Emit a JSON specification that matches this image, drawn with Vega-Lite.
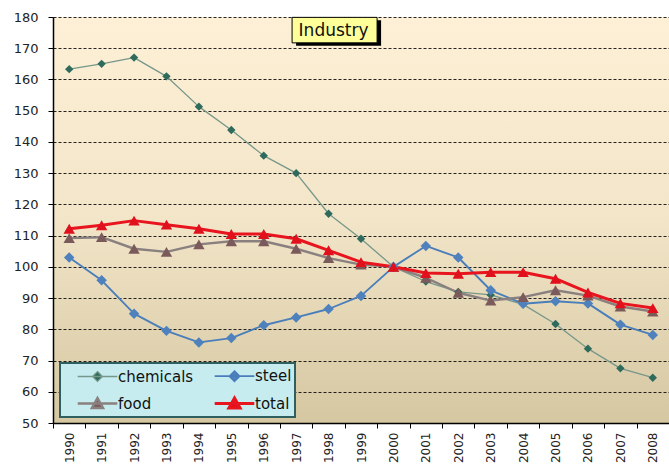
{
  "$schema": "https://vega.github.io/schema/vega-lite/v6.json",
  "width": 616,
  "height": 406,
  "autosize": {"type": "none"},
  "padding": {"left": 53, "top": 17, "right": 0, "bottom": 41},
  "background": "white",
  "config": {
    "view": {
      "stroke": null,
      "fill": {
        "gradient": "linear", "x1": 0, "y1": 0, "x2": 0, "y2": 1,
        "stops": [
          {"offset": 0, "color": "#FDF0D6"},
          {"offset": 0.5, "color": "#F2E5C8"},
          {"offset": 1, "color": "#D5C7A1"}
        ]
      }
    },
    "font": "DejaVu Sans",
    "axis": {"labelFont": "DejaVu Sans", "labelColor": "#222", "domainColor": "#000", "tickColor": "#000"},
    "axisY": {"labelOverlap": false}
  },
  "data": {
    "values": [
      {"year": 1990, "series": "chemicals", "value": 163.3},
      {"year": 1991, "series": "chemicals", "value": 165.0},
      {"year": 1992, "series": "chemicals", "value": 167.0},
      {"year": 1993, "series": "chemicals", "value": 161.0},
      {"year": 1994, "series": "chemicals", "value": 151.3},
      {"year": 1995, "series": "chemicals", "value": 143.8},
      {"year": 1996, "series": "chemicals", "value": 135.6},
      {"year": 1997, "series": "chemicals", "value": 130.0},
      {"year": 1998, "series": "chemicals", "value": 117.0},
      {"year": 1999, "series": "chemicals", "value": 109.0},
      {"year": 2000, "series": "chemicals", "value": 100.0},
      {"year": 2001, "series": "chemicals", "value": 95.3},
      {"year": 2002, "series": "chemicals", "value": 92.0},
      {"year": 2003, "series": "chemicals", "value": 91.0},
      {"year": 2004, "series": "chemicals", "value": 88.0},
      {"year": 2005, "series": "chemicals", "value": 81.7},
      {"year": 2006, "series": "chemicals", "value": 73.8},
      {"year": 2007, "series": "chemicals", "value": 67.5},
      {"year": 2008, "series": "chemicals", "value": 64.5},
      {"year": 1990, "series": "steel", "value": 103.0},
      {"year": 1991, "series": "steel", "value": 95.7},
      {"year": 1992, "series": "steel", "value": 85.0},
      {"year": 1993, "series": "steel", "value": 79.5},
      {"year": 1994, "series": "steel", "value": 75.8},
      {"year": 1995, "series": "steel", "value": 77.2},
      {"year": 1996, "series": "steel", "value": 81.3},
      {"year": 1997, "series": "steel", "value": 83.8},
      {"year": 1998, "series": "steel", "value": 86.5},
      {"year": 1999, "series": "steel", "value": 90.7},
      {"year": 2000, "series": "steel", "value": 100.0},
      {"year": 2001, "series": "steel", "value": 106.7},
      {"year": 2002, "series": "steel", "value": 103.0},
      {"year": 2003, "series": "steel", "value": 92.5},
      {"year": 2004, "series": "steel", "value": 88.2},
      {"year": 2005, "series": "steel", "value": 89.0},
      {"year": 2006, "series": "steel", "value": 88.3},
      {"year": 2007, "series": "steel", "value": 81.5},
      {"year": 2008, "series": "steel", "value": 78.2},
      {"year": 1990, "series": "food", "value": 109.2},
      {"year": 1991, "series": "food", "value": 109.5},
      {"year": 1992, "series": "food", "value": 105.8},
      {"year": 1993, "series": "food", "value": 104.8},
      {"year": 1994, "series": "food", "value": 107.2},
      {"year": 1995, "series": "food", "value": 108.2},
      {"year": 1996, "series": "food", "value": 108.2},
      {"year": 1997, "series": "food", "value": 105.8},
      {"year": 1998, "series": "food", "value": 102.8},
      {"year": 1999, "series": "food", "value": 100.7},
      {"year": 2000, "series": "food", "value": 100.0},
      {"year": 2001, "series": "food", "value": 96.5},
      {"year": 2002, "series": "food", "value": 91.7},
      {"year": 2003, "series": "food", "value": 89.2},
      {"year": 2004, "series": "food", "value": 90.3},
      {"year": 2005, "series": "food", "value": 92.5},
      {"year": 2006, "series": "food", "value": 90.8},
      {"year": 2007, "series": "food", "value": 87.3},
      {"year": 2008, "series": "food", "value": 85.7},
      {"year": 1990, "series": "total", "value": 112.2},
      {"year": 1991, "series": "total", "value": 113.3},
      {"year": 1992, "series": "total", "value": 114.8},
      {"year": 1993, "series": "total", "value": 113.5},
      {"year": 1994, "series": "total", "value": 112.2},
      {"year": 1995, "series": "total", "value": 110.5},
      {"year": 1996, "series": "total", "value": 110.5},
      {"year": 1997, "series": "total", "value": 109.0},
      {"year": 1998, "series": "total", "value": 105.3},
      {"year": 1999, "series": "total", "value": 101.5},
      {"year": 2000, "series": "total", "value": 100.0},
      {"year": 2001, "series": "total", "value": 98.0},
      {"year": 2002, "series": "total", "value": 97.8},
      {"year": 2003, "series": "total", "value": 98.3},
      {"year": 2004, "series": "total", "value": 98.3},
      {"year": 2005, "series": "total", "value": 96.2},
      {"year": 2006, "series": "total", "value": 91.8},
      {"year": 2007, "series": "total", "value": 88.3},
      {"year": 2008, "series": "total", "value": 86.8}
    ]
  },
  "encoding": {
    "x": {
      "field": "year", "type": "ordinal",
      "scale": {"paddingInner": 0, "paddingOuter": 0},
      "axis": {
        "title": null, "labelAngle": -90, "labelFontSize": 12, "labelPadding": 4,
        "tickBand": "extent", "tickSize": 5, "grid": false, "domainWidth": 1.5
      }
    },
    "y": {
      "field": "value", "type": "quantitative",
      "scale": {"domain": [50, 180], "nice": false},
      "axis": {
        "title": null, "values": [50, 60, 70, 80, 90, 100, 110, 120, 130, 140, 150, 160, 170, 180],
        "labelFontSize": 13, "labelPadding": 10, "tickSize": 5, "domainWidth": 1.5, "labelOverlap": false,
        "grid": true, "gridColor": "#000", "gridDash": [3, 2], "gridWidth": 1, "gridOpacity": 0.85
      }
    }
  },
  "layer": [
    {
      "mark": {"type": "line", "strokeJoin": "round"},
      "encoding": {
        "color": {
          "field": "series", "type": "nominal",
          "scale": {"domain": ["chemicals", "steel", "food", "total"], "range": ["#76978A", "#4A7EBB", "#8A8080", "#E8141E"]},
          "legend": {
            "title": null, "orient": "none", "legendX": 7, "legendY": 346, "direction": "horizontal", "columns": 2,
            "fillColor": "#C6ECEF", "strokeColor": "#2F5F5F", "padding": 3,
            "labelFont": "DejaVu Sans", "labelFontSize": 15, "labelColor": "#111",
            "symbolSize": 324, "columnPadding": 6, "rowPadding": 7, "labelOffset": 10, "symbolOffset": 24,
            "encode": {
              "legend": {"update": {"strokeWidth": {"value": 2}}},
              "symbols": {
                "update": {
                  "shape": {"signal": "datum.value == 'food' || datum.value == 'total' ? 'M-2.2,0H2.2M0,-0.6L0.62,0.5L-0.62,0.5Z' : 'M-2.2,0H2.2M0,-0.55L0.55,0L0,0.55L-0.55,0Z'"},
                  "fill": {"signal": "datum.value == 'chemicals' ? '#2E6B5C' : datum.value == 'steel' ? '#4F81BD' : datum.value == 'food' ? '#7A5A5A' : '#E0101C'"},
                  "strokeWidth": {"signal": "datum.value == 'chemicals' ? 1.3 : 3"}
                }
              }
            }
          }
        },
        "strokeWidth": {
          "field": "series", "type": "nominal",
          "scale": {"domain": ["chemicals", "steel", "food", "total"], "range": [1.3, 3, 3, 3]},
          "legend": null
        }
      }
    },
    {
      "transform": [{"filter": "datum.series == 'chemicals'"}],
      "mark": {"type": "point", "filled": true, "opacity": 1, "shape": "diamond", "size": 70, "fill": "#2E6B5C"}
    },
    {
      "transform": [{"filter": "datum.series == 'steel'"}],
      "mark": {"type": "point", "filled": true, "opacity": 1, "shape": "diamond", "size": 110, "fill": "#4F81BD"}
    },
    {
      "transform": [{"filter": "datum.series == 'food'"}],
      "mark": {"type": "point", "filled": true, "opacity": 1, "shape": "triangle-up", "size": 130, "fill": "#7A5A5A"}
    },
    {
      "transform": [{"filter": "datum.series == 'total'"}],
      "mark": {"type": "point", "filled": true, "opacity": 1, "shape": "triangle-up", "size": 130, "fill": "#E0101C"}
    },
    {
      "data": {"values": [{"label": "Industry", "yr": 1998, "pos": 175.8}]},
      "mark": {"type": "point", "shape": "M-1,-0.3H1V0.3H-1Z", "size": 7225, "filled": true, "fill": "#000", "opacity": 1, "xOffset": 10, "yOffset": 3},
      "encoding": {
        "x": {"field": "yr", "type": "ordinal"},
        "y": {"field": "pos", "type": "quantitative"}
      }
    },
    {
      "data": {"values": [{"label": "Industry", "yr": 1998, "pos": 175.8}]},
      "mark": {"type": "point", "shape": "M-1,-0.3H1V0.3H-1Z", "size": 7225, "filled": true, "fill": "#FFFF99", "stroke": "#000", "strokeWidth": 1, "opacity": 1, "xOffset": 6},
      "encoding": {
        "x": {"field": "yr", "type": "ordinal"},
        "y": {"field": "pos", "type": "quantitative"}
      }
    },
    {
      "data": {"values": [{"label": "Industry", "yr": 1998, "pos": 175.8}]},
      "mark": {"type": "text", "font": "DejaVu Sans", "fontSize": 17, "color": "#111", "xOffset": 5, "yOffset": 1},
      "encoding": {
        "x": {"field": "yr", "type": "ordinal"},
        "y": {"field": "pos", "type": "quantitative"},
        "text": {"field": "label"}
      }
    }
  ]
}
